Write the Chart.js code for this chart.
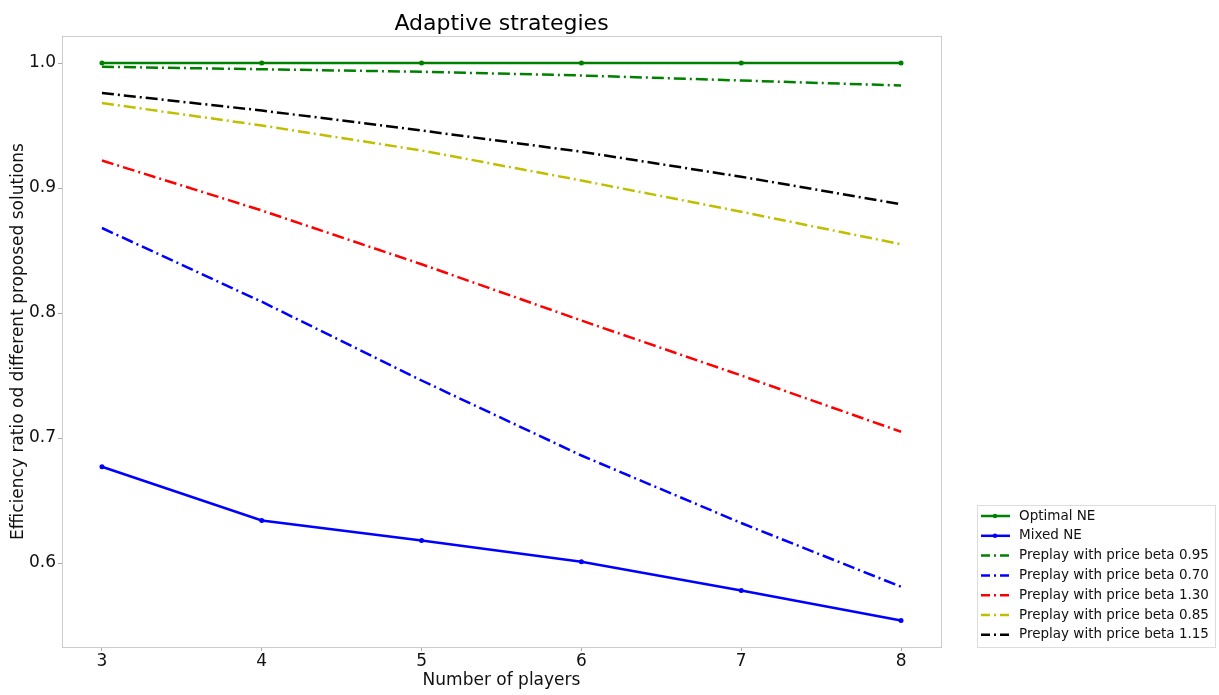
<!DOCTYPE html>
<html>
<head>
<meta charset="utf-8">
<script src="https://cdn.jsdelivr.net/npm/chart.js@4.4.0/dist/chart.umd.min.js"></script>
<style>
  html, body { margin: 0; padding: 0; background: #fff; }
  #wrap { width: 1219px; height: 695px; }
</style>
</head>
<body>
<div id="wrap"><canvas id="chart" width="1219" height="695"></canvas></div>
<script>
// values
const players = [3, 4, 5, 6, 7, 8];
const optimalNE = [1.0, 1.0, 1.0, 1.0, 1.0, 1.0];
const mixedNE = [0.677, 0.634, 0.618, 0.601, 0.578, 0.554];
const beta095 = [0.997, 0.995, 0.993, 0.990, 0.986, 0.982];
const beta070 = [0.868, 0.809, 0.746, 0.686, 0.632, 0.581];
const beta130 = [0.922, 0.882, 0.839, 0.794, 0.750, 0.705];
const beta085 = [0.968, 0.950, 0.930, 0.906, 0.881, 0.855];
const beta115 = [0.976, 0.962, 0.946, 0.929, 0.909, 0.887];
const yTicks = [0.6, 0.7, 0.8, 0.9, 1.0];
const titleText = 'Adaptive strategies';

const FONT = "'DejaVu Sans', sans-serif";
const dashDot = [12, 4, 2, 4];

function pts(arr) {
    return players.map((p, i) => ({x: p, y: arr[i]}));
}

function series(label, arr, color, dashed) {
    return {
        label: label,
        data: pts(arr),
        borderColor: color,
        backgroundColor: color,
        borderWidth: 2.5,
        borderDash: dashed ? dashDot : [],
        pointRadius: dashed ? 0 : 2.5,
        pointBorderWidth: 0,
        pointHoverRadius: dashed ? 0 : 2.5,
        tension: 0,
        fill: false
    };
}

const datasets = [
    series('Optimal NE', optimalNE, '#008000', false),
    series('Mixed NE', mixedNE, '#0000ff', false),
    series('Preplay with price beta 0.95', beta095, '#008000', true),
    series('Preplay with price beta 0.70', beta070, '#0000ff', true),
    series('Preplay with price beta 1.30', beta130, '#ff0000', true),
    series('Preplay with price beta 0.85', beta085, '#bfbf00', true),
    series('Preplay with price beta 1.15', beta115, '#000000', true)
];

// title over the plot, spines on all four sides, boxed legend outside the plot
const framePlugin = {
    id: 'frame',
    afterDraw(chart) {
        const ctx = chart.ctx;
        const a = chart.chartArea;
        ctx.save();
        ctx.strokeStyle = '#cccccc';
        ctx.lineWidth = 1;
        ctx.strokeRect(a.left + 0.5, a.top + 0.5, a.right - a.left, a.bottom - a.top);

        ctx.fillStyle = '#000';
        ctx.font = '22px ' + FONT;
        ctx.textAlign = 'center';
        ctx.textBaseline = 'middle';
        ctx.fillText(titleText, (a.left + a.right) / 2, 24);

        const x0 = chart.width - 242, y0 = 505, w = 238, h = 142;
        ctx.fillStyle = '#fff';
        ctx.fillRect(x0, y0, w, h);
        ctx.strokeStyle = '#dddddd';
        ctx.strokeRect(x0 + 0.5, y0 + 0.5, w, h);
        ctx.font = '13.5px ' + FONT;
        ctx.textAlign = 'left';
        chart.data.datasets.forEach((ds, i) => {
            const y = y0 + 11 + i * 19.8;
            ctx.strokeStyle = ds.borderColor;
            ctx.lineWidth = 2.5;
            ctx.setLineDash(ds.borderDash.length ? [9, 4, 2, 4] : []);
            ctx.beginPath();
            ctx.moveTo(x0 + 4, y);
            ctx.lineTo(x0 + 33, y);
            ctx.stroke();
            ctx.setLineDash([]);
            if (ds.pointRadius > 0) {
                ctx.fillStyle = ds.borderColor;
                ctx.beginPath();
                ctx.arc(x0 + 18, y, 2.2, 0, Math.PI * 2);
                ctx.fill();
            }
            ctx.fillStyle = '#111';
            ctx.fillText(ds.label, x0 + 42, y);
        });
        ctx.restore();
    }
};

const ctx = document.getElementById('chart');
const chart = new Chart(ctx, {
    type: 'line',
    data: { datasets: datasets },
    plugins: [framePlugin],
    options: {
        responsive: false,
        animation: false,
        events: [],
        layout: { padding: { left: 0, right: 278, top: 36, bottom: 0 } },
        plugins: {
            legend: { display: false },
            tooltip: { enabled: false },
            title: { display: false }
        },
        scales: {
            x: {
                type: 'linear',
                min: 2.75,
                max: 8.25,
                afterBuildTicks(axis) {
                    axis.ticks = players.map(v => ({value: v}));
                },
                afterFit(axis) { axis.height = 48; },
                border: { display: false },
                grid: { drawOnChartArea: false, drawTicks: true, tickLength: 4, color: '#aaaaaa' },
                ticks: {
                    color: '#111',
                    font: { family: FONT, size: 17 },
                    padding: 0,
                    maxRotation: 0
                },
                title: {
                    display: true,
                    text: 'Number of players',
                    color: '#111',
                    font: { family: FONT, size: 17 },
                    padding: { top: 0, bottom: 4 }
                }
            },
            y: {
                type: 'linear',
                min: 0.5328,
                max: 1.0216,
                afterBuildTicks(axis) {
                    axis.ticks = yTicks.map(v => ({value: v}));
                },
                afterFit(axis) { axis.width = 62; },
                border: { display: false },
                grid: { drawOnChartArea: false, drawTicks: true, tickLength: 4, color: '#aaaaaa' },
                ticks: {
                    color: '#111',
                    font: { family: FONT, size: 17 },
                    padding: 2,
                    callback: v => v.toFixed(1)
                },
                title: {
                    display: true,
                    text: 'Efficiency ratio od different proposed solutions',
                    color: '#111',
                    font: { family: FONT, size: 17 },
                    padding: { top: 8, bottom: 0 }
                }
            }
        }
    }
});
</script>
</body>
</html>
